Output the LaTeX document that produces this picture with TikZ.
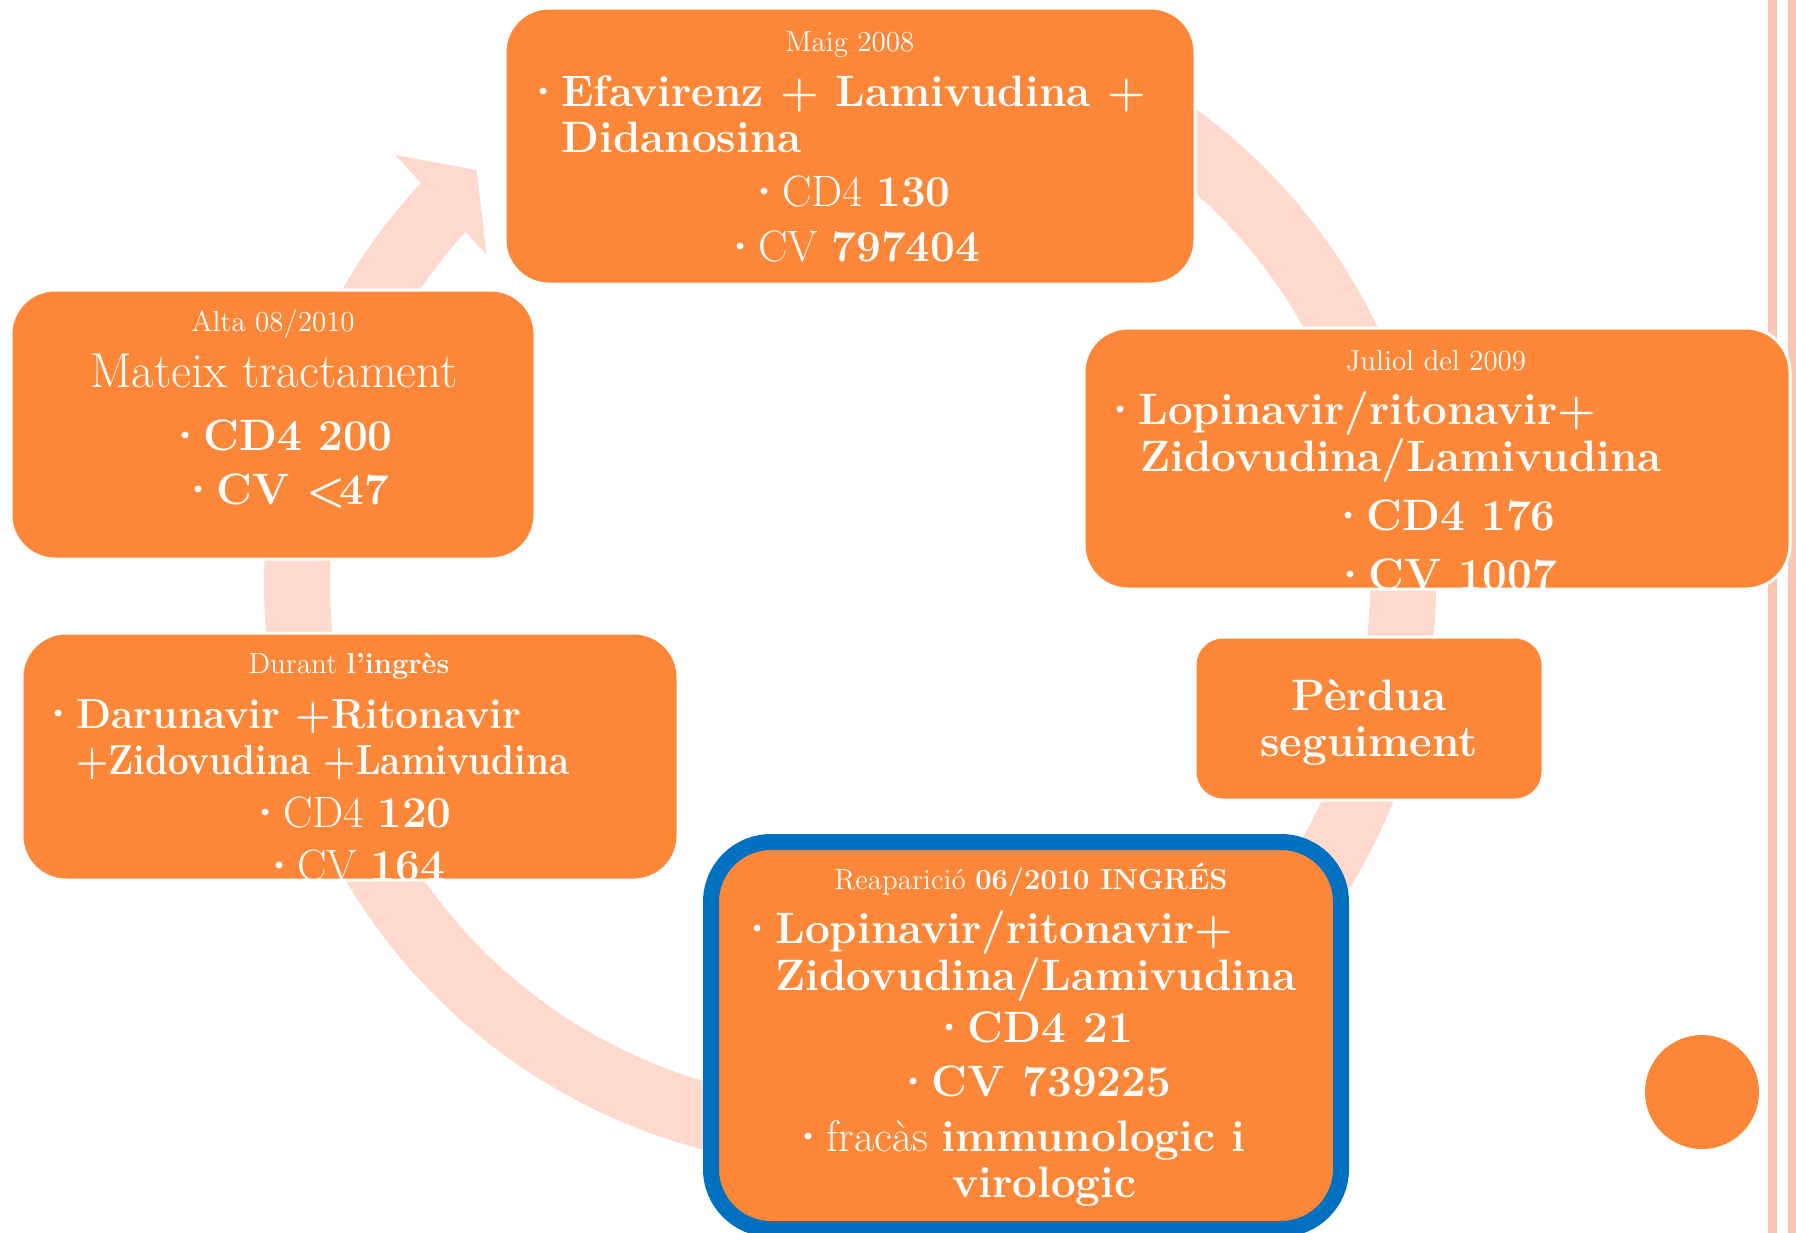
\documentclass[tikz,border=0pt]{standalone}
\definecolor{boxorange}{HTML}{FD8738}
\definecolor{ringpink}{HTML}{FDD9CE}
\definecolor{frameblue}{HTML}{0070C0}
\definecolor{stripepink}{HTML}{F9C6B4}
\newcommand{\bul}{\makebox[12pt][l]{\hspace{-2.5pt}\raisebox{3.5pt}{\fontsize{15}{15}\selectfont\textbullet}}}
\newcommand{\narrow}[2]{\scalebox{#1}[1]{#2}}
\tikzset{
  stepbox/.style={fill=boxorange, draw=white, line width=1.5pt, rounded corners=22pt, inner sep=0pt},
  big/.style={text=white, inner sep=0pt, anchor=base west, font=\fontsize{22}{22}\selectfont},
  bigc/.style={big, anchor=base},
  small/.style={text=white, inner sep=0pt, anchor=base, font=\fontsize{14.5}{14.5}\selectfont}
}
\begin{document}
\begin{tikzpicture}[x=0.5pt, y=-0.5pt]
        \useasboundingbox (0,0) rectangle (1796,1233);
        % 右边两条线
        \fill[stripepink] (1768,0) rectangle (1777,1233);
        \fill[stripepink] (1788,0) rectangle (1796,1233);
        % 圆环和箭头
        \coordinate (hub) at (850,582);
        \draw[ringpink, line width=33pt] (hub) ++(-60:553) arc[start angle=-60, end angle=223, radius=553];
        \fill[ringpink, shift={(hub)}] (-136.8:624) -- (-132.2:556) -- (-138:489) -- cycle;
        % 方框
        \node[stepbox, minimum width=345pt, minimum height=138pt] (maig) at (850,146) {};
        \node[stepbox, minimum width=353pt, minimum height=130.5pt] (juliol) at (1437,458.5) {};
        \node[stepbox, rounded corners=14pt, minimum width=174pt, minimum height=81.5pt] (perdua) at (1369,718.5) {};
        \node[stepbox, draw=frameblue, line width=8pt, rounded corners=30pt, minimum width=315pt, minimum height=193.5pt] (reaparicio) at (1026,1035.5) {};
        \node[stepbox, minimum width=328pt, minimum height=123.5pt] (durant) at (350,756.5) {};
        \node[stepbox, minimum width=262pt, minimum height=134.5pt] (alta) at (273,424.5) {};
        \node[circle, fill=boxorange, minimum size=57pt, inner sep=0pt] (dot) at (1702,1092) {};
        % Maig 2008
        \node[small] (maigT) at (850,51) {Maig 2008};
        \node[big] (maigA) at (537,106) {\bul\textbf{Efavirenz + Lamivudina +}};
        \node[big] (maigB) at (561,152) {\textbf{Didanosina}};
        \node[big] (maigC) at (758,206) {\bul CD4 \textbf{130}};
        \node[big] (maigD) at (734,261) {\bul CV \textbf{797404}};
        % Juliol del 2009
        \node[small] (julT) at (1436,370) {Juliol del 2009};
        \node[big] (julA) at (1114,424) {\bul\textbf{Lopinavir/ritonavir+}};
        \node[big] (julB) at (1140,471) {\textbf{Zidovudina/Lamivudina}};
        \node[big] (julC) at (1342,530) {\bul\textbf{CD4 176}};
        \node[big] (julD) at (1344,589) {\bul\textbf{CV 1007}};
        % Perdua
        \node[bigc] (perA) at (1369,710) {\textbf{Pèrdua}};
        \node[bigc] (perB) at (1369,756) {\textbf{seguiment}};
        % Reaparicio
        \node[small] (reaT) at (1031,889) {Reaparició \textbf{06/2010 INGRÉS}};
        \node[big] (reaA) at (751,943) {\bul\textbf{Lopinavir/ritonavir+}};
        \node[big] (reaB) at (775,990) {\textbf{Zidovudina/Lamivudina}};
        \node[big] (reaC) at (943,1042) {\bul\textbf{CD4\hspace{9pt}21}};
        \node[big] (reaD) at (907,1096) {\bul\textbf{CV\hspace{9pt}739225}};
        \node[big] (reaE) at (802,1151) {\bul fracàs \textbf{immunologic i}};
        \node[big] (reaF) at (952,1197) {\textbf{virologic}};
        % Durant l'ingres
        \node[small] (durT) at (349,673) {Durant \textbf{l’ingrès}};
        \node[big, font=\fontsize{21}{21}\selectfont] (durA) at (52,728) {\bul\narrow{0.97}{\textbf{Darunavir +Ritonavir}}};
        \node[big, font=\fontsize{21}{21}\selectfont] (durB) at (76,774) {\narrow{0.875}{\textbf{+Zidovudina +Lamivudina}}};
        \node[big] (durC) at (259,827) {\bul CD4 \textbf{120}};
        \node[big] (durD) at (273,880) {\bul CV \textbf{164}};
        % Alta
        \node[small] (altT) at (273,331) {Alta 08/2010};
        \node[bigc, font=\fontsize{24.5}{24.5}\selectfont] (altA) at (274,387) {Mateix tractament};
        \node[big] (altB) at (179,450) {\bul\textbf{CD4 200}};
        \node[big] (altC) at (192,504) {\bul\textbf{CV <\kern-3pt47}};
\end{tikzpicture}
\end{document}
